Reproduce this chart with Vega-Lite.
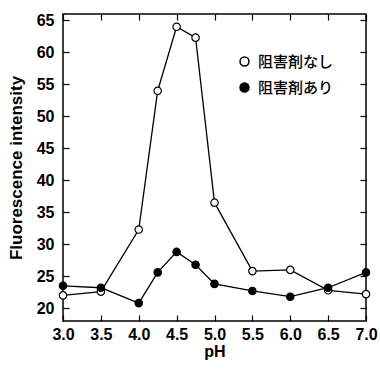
{
  "$schema": "https://vega.github.io/schema/vega-lite/v6.json",
  "width": 303,
  "height": 307,
  "autosize": {"type": "none"},
  "padding": {"left": 63, "top": 14, "right": 14, "bottom": 48},
  "background": "white",
  "config": {
    "view": {"stroke": "black", "strokeWidth": 1.5},
    "font": "Liberation Sans",
    "axis": {
      "labelFont": "Liberation Sans",
      "labelFontWeight": "bold",
      "labelFontSize": 16,
      "labelColor": "black",
      "labelFlush": false,
      "labelOverlap": false,
      "titleFont": "Liberation Sans",
      "titleFontWeight": "bold",
      "titleFontSize": 16,
      "titleColor": "black",
      "grid": false,
      "domain": false,
      "tickColor": "black",
      "tickWidth": 1.2,
      "tickSize": -6
    }
  },
  "data": {
    "values": [
      {"pH": 3.0, "v": 22.0, "s": "阻害剤なし"},
      {"pH": 3.5, "v": 22.6, "s": "阻害剤なし"},
      {"pH": 4.0, "v": 32.3, "s": "阻害剤なし"},
      {"pH": 4.25, "v": 54.0, "s": "阻害剤なし"},
      {"pH": 4.5, "v": 64.0, "s": "阻害剤なし"},
      {"pH": 4.75, "v": 62.3, "s": "阻害剤なし"},
      {"pH": 5.0, "v": 36.5, "s": "阻害剤なし"},
      {"pH": 5.5, "v": 25.8, "s": "阻害剤なし"},
      {"pH": 6.0, "v": 26.0, "s": "阻害剤なし"},
      {"pH": 6.5, "v": 22.8, "s": "阻害剤なし"},
      {"pH": 7.0, "v": 22.2, "s": "阻害剤なし"},
      {"pH": 3.0, "v": 23.5, "s": "阻害剤あり"},
      {"pH": 3.5, "v": 23.2, "s": "阻害剤あり"},
      {"pH": 4.0, "v": 20.8, "s": "阻害剤あり"},
      {"pH": 4.25, "v": 25.6, "s": "阻害剤あり"},
      {"pH": 4.5, "v": 28.8, "s": "阻害剤あり"},
      {"pH": 4.75, "v": 26.8, "s": "阻害剤あり"},
      {"pH": 5.0, "v": 23.8, "s": "阻害剤あり"},
      {"pH": 5.5, "v": 22.7, "s": "阻害剤あり"},
      {"pH": 6.0, "v": 21.8, "s": "阻害剤あり"},
      {"pH": 6.5, "v": 23.2, "s": "阻害剤あり"},
      {"pH": 7.0, "v": 25.6, "s": "阻害剤あり"}
    ]
  },
  "layer": [
    {
      "mark": {"type": "line", "color": "black", "strokeWidth": 1.3},
      "encoding": {
        "x": {
          "field": "pH", "type": "quantitative",
          "scale": {"domain": [3, 7], "nice": false, "zero": false},
          "axis": {"values": [3, 3.5, 4, 4.5, 5, 5.5, 6, 6.5, 7], "format": ".1f", "title": "pH", "labelPadding": 11, "titlePadding": 1}
        },
        "y": {
          "field": "v", "type": "quantitative",
          "scale": {"domain": [18, 66], "nice": false, "zero": false},
          "axis": {"values": [20, 25, 30, 35, 40, 45, 50, 55, 60, 65], "title": "Fluorescence intensity", "titleFontSize": 17, "labelPadding": 15, "titlePadding": 11}
        },
        "detail": {"field": "s"}
      }
    },
    {
      "mark": {"type": "point", "shape": "circle", "filled": true, "stroke": "black", "strokeWidth": 1.2, "size": 55, "opacity": 1},
      "encoding": {
        "x": {
          "field": "pH", "type": "quantitative",
          "axis": {"orient": "top", "values": [3, 3.5, 4, 4.5, 5, 5.5, 6, 6.5, 7], "labels": false, "title": null}
        },
        "y": {
          "field": "v", "type": "quantitative",
          "axis": {"orient": "right", "values": [20, 25, 30, 35, 40, 45, 50, 55, 60, 65], "labels": false, "title": null}
        },
        "fill": {
          "field": "s", "type": "nominal",
          "scale": {"domain": ["阻害剤なし", "阻害剤あり"], "range": ["white", "black"]},
          "legend": {
            "orient": "none", "legendX": 174, "legendY": 40, "title": null,
            "symbolType": "circle", "symbolSize": 80, "symbolStrokeColor": "black", "symbolStrokeWidth": 1.5,
            "labelFont": "Noto Sans CJK JP", "labelFontSize": 15, "labelFontWeight": 500, "labelColor": "black", "labelOffset": 6,
            "rowPadding": 10
          }
        }
      }
    }
  ],
  "resolve": {"axis": {"x": "independent", "y": "independent"}}
}
